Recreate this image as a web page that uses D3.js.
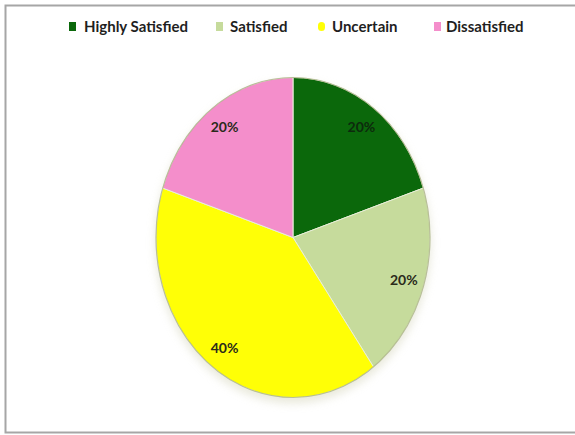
<!DOCTYPE html>
<html>
<head>
<meta charset="utf-8">
<script src="https://cdn.jsdelivr.net/npm/d3@7"></script>
<style>
  html, body { margin: 0; padding: 0; background: #fff; }
  svg { display: block; }
</style>
</head>
<body>
<svg id="chart" width="575" height="435"></svg>
<script>
// Survey response shares
const categories = ["Highly Satisfied", "Satisfied", "Uncertain", "Dissatisfied"];
const values = [20, 20, 40, 20];
const colors = ["#0b680b", "#c6db9c", "#ffff06", "#f48ecb"];

const W = 575, H = 435;
const svg = d3.select("#chart");

const defs = svg.append("defs");
const shadow = defs.append("filter").attr("id", "soft").attr("x", "-20%").attr("y", "-20%").attr("width", "140%").attr("height", "140%");
shadow.append("feGaussianBlur").attr("stdDeviation", 4);

// chart frame (right edge runs past the view)
svg.append("rect")
  .attr("x", 5.5).attr("y", 5.5)
  .attr("width", 620).attr("height", 427)
  .attr("fill", "#fff")
  .attr("stroke", "#a6a6a6").attr("stroke-width", 2);

// legend
const legendFont = "bold 15px Lato, 'Open Sans', sans-serif";
const markerX = [69, 216, 318, 434];
const textX = [84, 230, 332, 446];
const legend = svg.append("g");
categories.forEach((c, i) => {
  legend.append("rect")
    .attr("x", markerX[i]).attr("y", 22).attr("width", 7).attr("height", 9)
    .attr("rx", i === 2 ? 3.5 : 0)
    .attr("fill", colors[i]);
  legend.append("text")
    .attr("x", textX[i]).attr("y", 31.5)
    .style("font", legendFont)
    .attr("fill", "#1f1f1f")
    .text(c);
});

// pie, drawn on a unit circle and stretched to an ellipse
const cx = 293, cy = 237.5, rx = 137, ry = 160;
const pie = d3.pie().sort(null).value(d => d)(values);
const arc = d3.arc().innerRadius(0).outerRadius(1);
const total = d3.sum(values);

// soft shadow under the pie
svg.append("ellipse")
  .attr("cx", cx).attr("cy", cy + 5)
  .attr("rx", rx + 1).attr("ry", ry + 1)
  .attr("fill", "#d8d8c0")
  .attr("opacity", 0.55)
  .attr("filter", "url(#soft)");

const pieG = svg.append("g")
  .attr("transform", `translate(${cx},${cy}) scale(${rx},${ry})`);

pieG.selectAll("path.slice")
  .data(pie)
  .join("path")
  .attr("class", "slice")
  .attr("d", arc)
  .attr("fill", (d, i) => colors[i])
  .attr("stroke", "#e8eed8")
  .attr("stroke-width", 1)
  .attr("vector-effect", "non-scaling-stroke");

// outer rim
pieG.append("ellipse")
  .attr("cx", 0).attr("cy", 0).attr("rx", 1).attr("ry", 1)
  .attr("fill", "none")
  .attr("stroke", "#9aa070")
  .attr("stroke-opacity", 0.6)
  .attr("stroke-width", 1.2)
  .attr("vector-effect", "non-scaling-stroke");

// percentage labels
const labelR = 0.85;
svg.append("g")
  .selectAll("text")
  .data(pie)
  .join("text")
  .attr("x", d => cx + rx * labelR * Math.sin((d.startAngle + d.endAngle) / 2))
  .attr("y", d => cy - ry * labelR * Math.cos((d.startAngle + d.endAngle) / 2) + 5)
  .attr("text-anchor", "middle")
  .style("font", "bold 14px Lato, 'Open Sans', sans-serif")
  .attr("fill", (d, i) => i === 0 ? "#0d2a0d" : "#2a2a1a")
  .text(d => Math.round(d.value / total * 100) + "%");
</script>
</body>
</html>
